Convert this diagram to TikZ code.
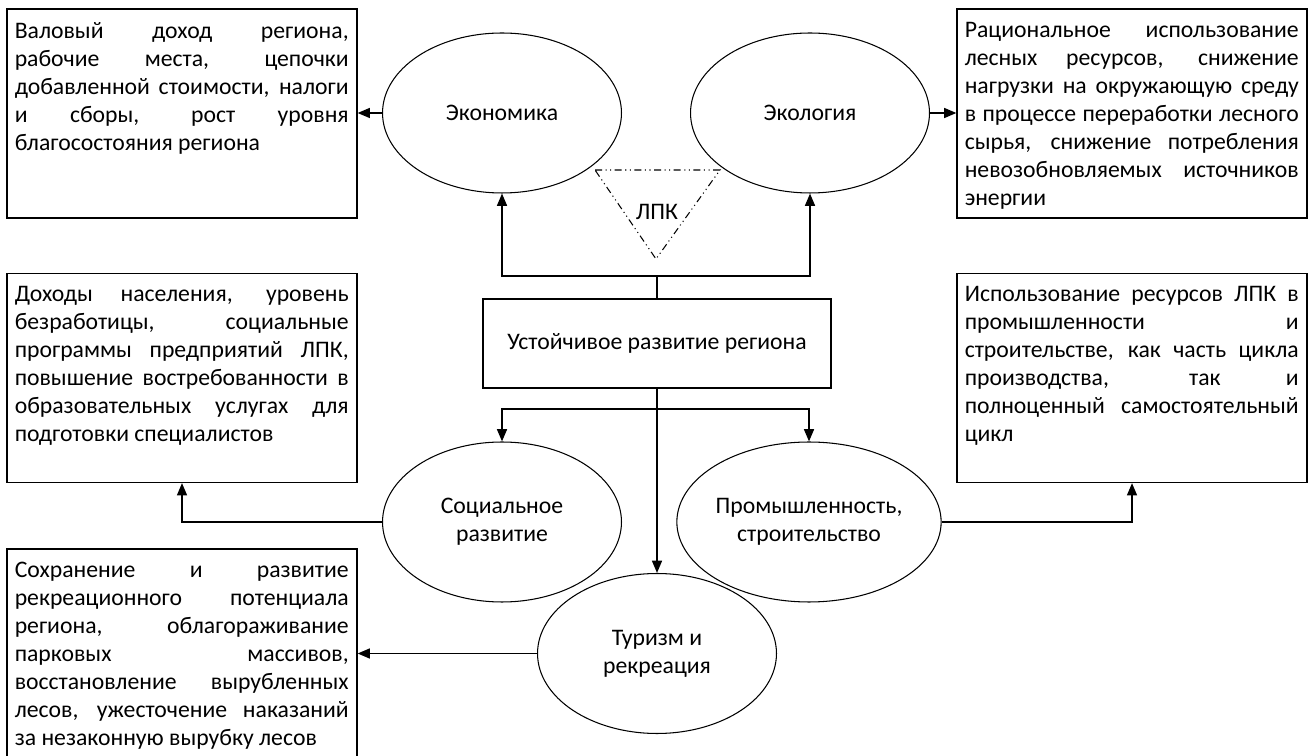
\documentclass[tikz,border=0pt]{standalone}
\usepackage{fontspec}
\setmainfont{Carlito}
\usetikzlibrary{shapes,arrows,arrows.meta,positioning}

\begin{document}
\begin{tikzpicture}[x=0.02cm, y=-0.02cm,
  font=\fontsize{13.5}{15.9}\selectfont,
  box/.style={draw, line width=0.7pt, minimum width=7cm, minimum height=4.18cm, inner sep=0pt},
  txt/.style={anchor=north west, text width=6.68cm, align=justify, inner xsep=0.16cm, inner ysep=0.27cm},
  oval/.style={draw, ellipse, line width=0.6pt, minimum width=4.78cm, minimum height=3.2cm, align=center, inner sep=0pt},
  arr/.style={-{Triangle[length=7pt, width=5.6pt]}, line width=1.1pt}]
\useasboundingbox (0,0) rectangle (1309,756);

% text boxes
\node[box] (econbox) at (182,113.5) {};
\node[txt] (econtxt) at (econbox.north west) {Валовый доход региона,\linebreak
рабочие места, цепочки\linebreak
добавленной стоимости, налоги\linebreak
и сборы, рост уровня\linebreak
благосостояния региона};

\node[box] (ecolbox) at (1132,113.5) {};
\node[txt] (ecoltxt) at (ecolbox.north west) {Рациональное использование\linebreak
лесных ресурсов, снижение\linebreak
нагрузки на окружающую среду\linebreak
в процессе переработки лесного\linebreak
сырья, снижение потребления\linebreak
невозобновляемых источников\linebreak
энергии};

\node[box] (socbox) at (182,378) {};
\node[txt] (soctxt) at (socbox.north west) {Доходы населения, уровень\linebreak
безработицы, социальные\linebreak
программы предприятий ЛПК,\linebreak
повышение востребованности в\linebreak
образовательных услугах для\linebreak
подготовки специалистов};

\node[box] (indbox) at (1132,378) {};
\node[txt] (indtxt) at (indbox.north west) {Использование ресурсов ЛПК в\linebreak
промышленности и\linebreak
строительстве, как часть цикла\linebreak
производства, так и\linebreak
полноценный самостоятельный\linebreak
цикл};

\node[box] (tourbox) at (182,653.5) {};
\node[txt] (tourtxt) at (tourbox.north west) {Сохранение и развитие\linebreak
рекреационного потенциала\linebreak
региона, облагораживание\linebreak
парковых массивов,\linebreak
восстановление вырубленных\linebreak
лесов, ужесточение наказаний\linebreak
за незаконную вырубку лесов};

% ellipses
\node[oval] (econ) at (502,113) {Экономика};
\node[oval] (ecol) at (810,113) {Экология};
\node[oval] (social) at (502,522) {Социальное\\развитие};
\node[oval] (ind) at (809,522) {Промышленность,\\строительство};
\node[oval] (tour) at (657,653.5) {Туризм и\\рекреация};

\node[draw, line width=0.7pt, minimum width=6.96cm, minimum height=1.78cm] (sust) at (657,343.5) {Устойчивое развитие региона};

% LPK triangle
\draw[line width=0.6pt, dash pattern=on 4pt off 2pt on 0.6pt off 2pt on 0.6pt off 2pt] (595,170) -- (720,170) -- (656,259) -- cycle;
\node (lpk) at (657,212) {ЛПК};

% connectors
\draw[arr] (sust.north) -- ++(0,-22) -| (econ.south);
\draw[arr] (sust.north) -- ++(0,-22) -| (ecol.south);
\draw[arr] (sust.south) -- ++(0,20) -| (social.north);
\draw[arr] (sust.south) -- ++(0,20) -| (ind.north);
\draw[arr] (sust.south) -- (tour.north);
\draw[arr] (econ.west) -- (econ.west -| econbox.east);
\draw[arr] (ecol.east) -- (ecol.east -| ecolbox.west);
\draw[arr] (social.west) -| (socbox.south);
\draw[arr] (ind.east) -| (indbox.south);
\draw[arr] (tour.west) -- (tour.west -| tourbox.east);
\end{tikzpicture}
\end{document}
